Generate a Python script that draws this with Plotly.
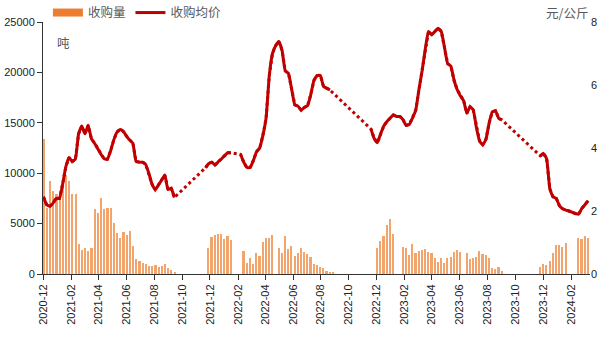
import plotly.graph_objects as go
import pandas as pd

# ---------------- data (weekly) ----------------
# purchase volume (tons), per season
vol_s1_start = "2020-12-02"
vol_s1 = [13400, 6500, 9200, 8200, 7900, 7600, 8700, 9800, 9200, 7900, 7900, 3000,
          2400, 2600, 2300, 2600, 6400, 6100, 7500, 6400, 6500, 6500, 5100, 4100,
          3600, 4200, 3900, 4300, 2800, 1500, 1300, 1100, 1000, 800, 800, 900,
          700, 800, 1000, 600, 400, 200]
vol_s2_start = "2021-11-28"
vol_s2 = [2600, 3700, 3900, 4000, 4000, 3500, 3800, 3400, 0, 0, 0, 2300,
          1100, 1600, 1000, 2100, 1800, 3200, 3600, 3600, 3900, 0, 2600, 2100,
          3800, 2500, 2800, 1800, 2100, 2600, 2200, 2000, 1700, 1000, 900, 700,
          600, 300, 150, 100]
vol_s3_start = "2022-12-03"
vol_s3 = [2550, 3240, 3770, 4830, 5490, 3940, 0, 0, 2650, 2610, 1850, 2980,
          2050, 2310, 2380, 2450, 2150, 2050, 1620, 1220, 1550, 1060, 1550, 1650,
          2150, 2380, 2220, 0, 2050, 1460, 1550, 1720, 2310, 1980, 1850, 1550,
          560, 460, 660, 300]
vol_s4_start = "2023-11-25"
vol_s4 = [660, 990, 890, 1320, 2050, 2840, 2840, 2650, 3110, 0, 0, 0,
          3540, 3440, 3800, 3540]

# average purchase price (yuan/kg), per season (None = no quote)
price_s1_start = "2020-12-01"
price_s1 = [2.45, 2.2, 2.15, 2.25, 2.4, 2.4, 2.85, 3.4, 3.7, 3.57, 3.65, 4.45,
            4.7, 4.45, 4.72, 4.3, 4.15, 3.98, 3.8, 3.66, 3.64, 3.9, 4.25, 4.5,
            4.59, 4.53, 4.38, 4.25, 4.15, 3.57, 3.55, 3.55, 3.48, 3.2, 2.85, 2.68,
            2.82, 2.98, 3.14, 2.68, 2.72, 2.43]
price_s2_start = "2021-11-21"
price_s2 = [3.37, 3.5, 3.55, 3.46, 3.56, 3.65, 3.76, 3.85, 3.85, None, None, 3.8,
            3.55, 3.38, 3.38, 3.6, 3.88, 4.0, 4.4, 4.95, 6.3, 7.0, 7.25, 7.38,
            7.1, 6.45, 6.37, 5.87, 5.37, 5.33, 5.2, 5.29, 5.35, 5.7, 6.15, 6.3,
            6.3, 5.95, 5.9, 5.84]
price_s3_start = "2022-11-19"
price_s3 = [4.6, 4.3, 4.17, 4.45, 4.7, 4.84, 4.95, 5.05, 5.0, 5.0, 4.9, 4.72,
            4.75, 4.95, 5.2, 5.85, 6.45, 7.15, 7.7, 7.6, 7.7, 7.8, 7.7, 7.2,
            6.68, 6.6, 6.15, 5.85, 5.65, 5.5, 5.1, 5.31, 5.21, 4.65, 4.22, 4.1,
            4.28, 4.8, 5.15, 5.18, 4.94, 4.89]
price_s4_start = "2023-11-25"
price_s4 = [3.75, 3.83, 3.65, 2.7, 2.45, 2.4, 2.17, 2.07, 2.03, 2.0, 1.96, 1.92,
            1.9, 2.08, 2.2, 2.33]

# ---------------- assemble ----------------
def weekly(start, vals):
    return list(pd.date_range(start, periods=len(vals), freq="7D")), list(vals)

vx, vy = [], []
for s, v in [(vol_s1_start, vol_s1), (vol_s2_start, vol_s2),
             (vol_s3_start, vol_s3), (vol_s4_start, vol_s4)]:
    d, y = weekly(s, v)
    vx += d
    vy += y

px_, py_ = [], []
for s, v in [(price_s1_start, price_s1), (price_s2_start, price_s2),
             (price_s3_start, price_s3), (price_s4_start, price_s4)]:
    d, y = weekly(s, v)
    if px_:
        px_.append(d[0] - pd.Timedelta(days=1))
        py_.append(None)
    px_ += d
    py_ += y

RED = "#C00000"
ORANGE = "#ED7D31"

fig = go.Figure()
fig.add_trace(go.Bar(
    x=vx, y=vy, name="收购量", yaxis="y", showlegend=False,
    marker=dict(color="#F1A46C", line=dict(width=0)),
    width=3.6 * 86400000,
))
# legend entry for the bars (wide swatch)
fig.add_trace(go.Scatter(
    x=[None], y=[None], name="收购量", mode="lines", yaxis="y",
    line=dict(color=ORANGE, width=8), hoverinfo="skip",
))
fig.add_trace(go.Scatter(
    x=px_, y=py_, yaxis="y2", mode="lines", connectgaps=True,
    line=dict(color=RED, width=3, dash="dot"), showlegend=False, hoverinfo="skip",
))
fig.add_trace(go.Scatter(
    x=px_, y=py_, name="收购均价", yaxis="y2", mode="lines", connectgaps=False,
    line=dict(color=RED, width=3, shape="spline", smoothing=0.4),
))

tickfont = dict(family="Liberation Sans, Arial, sans-serif", size=11, color="#222")
cjk = dict(family="Noto Sans CJK SC", size=12.5, color="#595959")
fig.update_layout(
    width=607, height=340,
    margin=dict(l=43, r=17, t=22, b=66, autoexpand=False),
    paper_bgcolor="white", plot_bgcolor="white",
    showlegend=True,
    legend=dict(orientation="h", x=0.009, y=1.036, yanchor="middle", xanchor="left",
                font=cjk, bgcolor="rgba(0,0,0,0)", itemwidth=30,
                tracegroupgap=0, itemclick=False),
    bargap=0,
    xaxis=dict(type="date", range=["2020-11-30", "2024-03-13"],
               tickformat="%Y-%m", dtick="M2", tick0="2020-12-01",
               tickangle=-90, showline=True, linecolor="#333", linewidth=1,
               ticks="outside", ticklen=5, tickcolor="#333",
               showgrid=False, zeroline=False, tickfont=tickfont),
    yaxis=dict(range=[0, 25000], dtick=5000, tickformat="d", showline=True,
               linecolor="#333", linewidth=1, ticks="outside", ticklen=5,
               tickcolor="#333", showgrid=False, zeroline=False, tickfont=tickfont),
    yaxis2=dict(range=[0, 8], tickvals=[0, 2, 4, 6, 8], overlaying="y", side="right",
                showline=False, ticks="", showgrid=False, zeroline=False,
                tickfont=tickfont),
    annotations=[
        dict(text="吨", xref="paper", yref="paper", x=0.038, y=0.917,
             xanchor="center", yanchor="middle", showarrow=False, font=cjk),
        dict(text="元/公斤", xref="paper", yref="paper", x=1.0, y=1.036,
             xanchor="right", yanchor="middle", showarrow=False, font=cjk),
    ],
)
fig.write_html("out.html")
